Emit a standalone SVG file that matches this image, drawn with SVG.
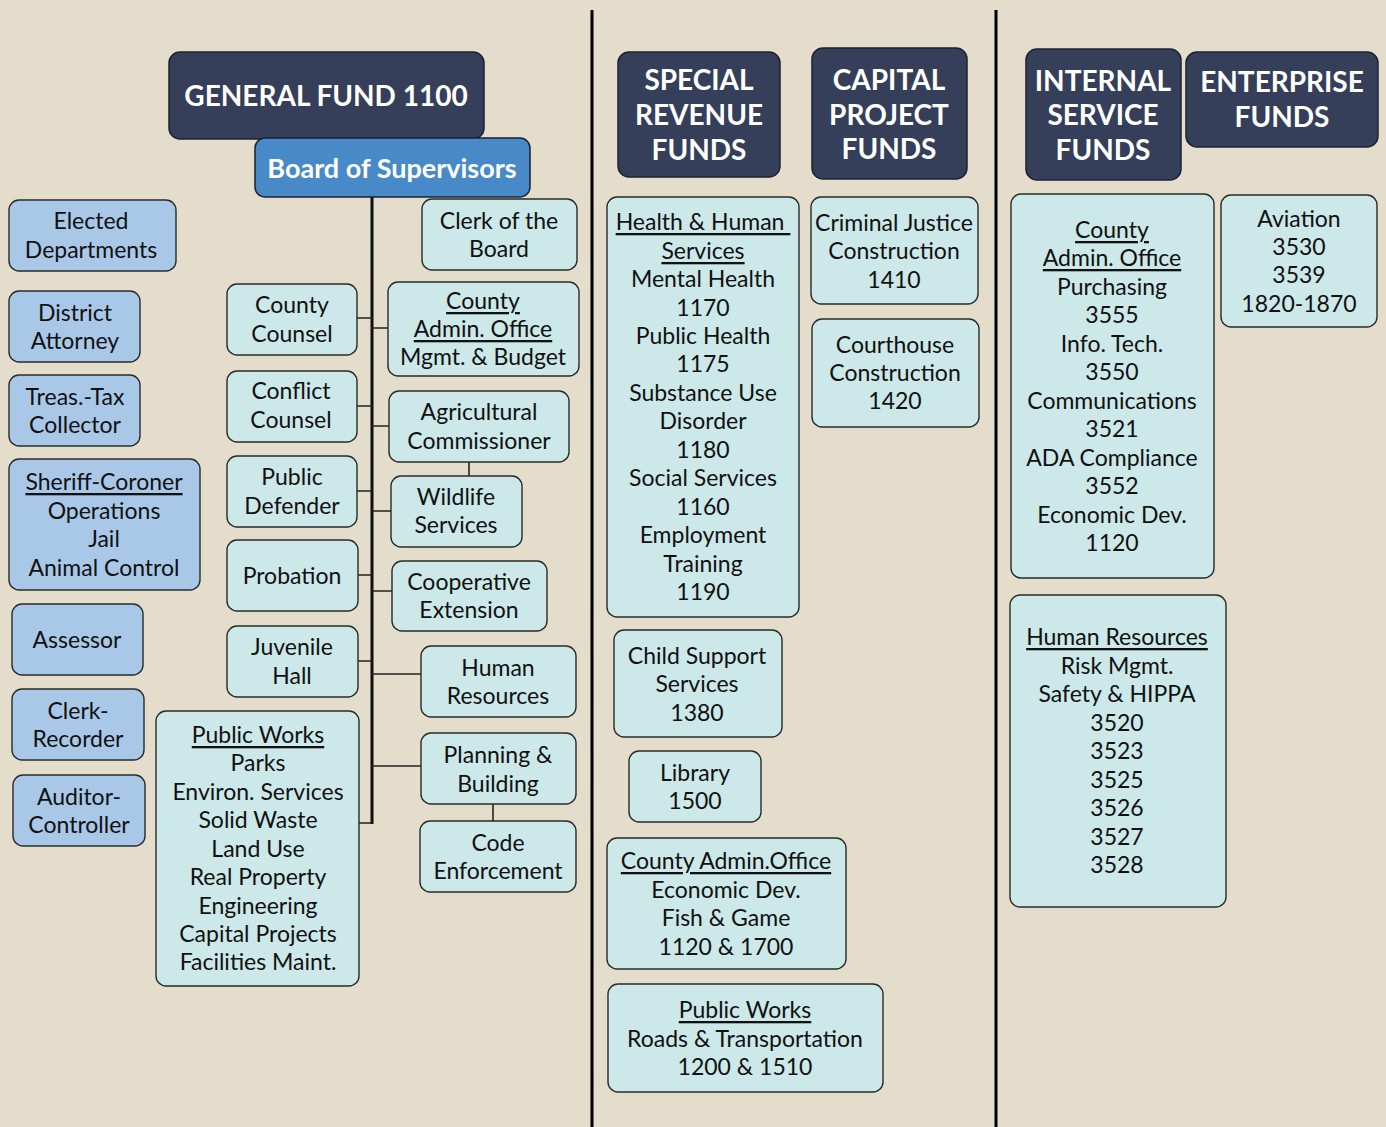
<svg xmlns="http://www.w3.org/2000/svg" width="1386" height="1127" viewBox="0 0 1386 1127">
<style>
.hd{fill:#353F5A;stroke:#1E2230;stroke-width:1.5}
.bs{fill:#4889C8;stroke:#1E2230;stroke-width:1.5}
.lb{fill:#A9C8E8;stroke:#2A2A2A;stroke-width:1.4}
.tl{fill:#CCE8E8;stroke:#2A2A2A;stroke-width:1.4}
text{font-family:Lato,"Open Sans","Liberation Sans",sans-serif;text-anchor:middle;dominant-baseline:central;transform:translate(0px,-1px)}
.t{font-size:23px;fill:#111}
.h{font-size:28px;font-weight:bold;fill:#fff}
.u{text-decoration:underline;white-space:pre}
.c{stroke:#222;stroke-width:1.6;fill:none}
.tr{stroke:#111;stroke-width:3;fill:none}
</style>
<rect width="1386" height="1127" fill="#E4DDCB"/>
<g id="separators">
<line x1="592" y1="10" x2="592" y2="1127" stroke="#000" stroke-width="3"/>
<line x1="996" y1="10" x2="996" y2="1127" stroke="#000" stroke-width="3"/>
</g>
<g id="connectors">
<line class="tr" x1="372" y1="197" x2="372" y2="824"/>
<path class="c" d="M357 318H372M357 406H372M357 491H372M358 575H372M358 661H372M359 823H372"/>
<path class="c" d="M372 328H388M372 426H389M372 511H391M372 591H392M372 674H421M372 766H421"/>
<path class="c" d="M469 462V476M493 804V821"/>
</g>
<g id="general-fund"><rect class="hd" x="169" y="52" width="315" height="87" rx="11"/><text class="h" x="326" y="96">GENERAL FUND 1100</text></g>
<g id="board"><rect class="bs" x="255" y="138" width="275" height="59" rx="10"/><text class="h" x="392" y="168" style="font-size:27px">Board of Supervisors</text></g>
<g id="special-revenue"><rect class="hd" x="618" y="52" width="162" height="125" rx="11"/><text class="h" x="699" y="80">SPECIAL</text><text class="h" x="699" y="115">REVENUE</text><text class="h" x="699" y="150">FUNDS</text></g>
<g id="capital-project"><rect class="hd" x="812" y="48" width="155" height="131" rx="11"/><text class="h" x="889" y="80">CAPITAL</text><text class="h" x="889" y="115">PROJECT</text><text class="h" x="889" y="149">FUNDS</text></g>
<g id="internal-service"><rect class="hd" x="1026" y="49" width="155" height="131" rx="11"/><text class="h" x="1103" y="81">INTERNAL</text><text class="h" x="1103" y="115">SERVICE</text><text class="h" x="1103" y="150">FUNDS</text></g>
<g id="enterprise"><rect class="hd" x="1186" y="52" width="192" height="95" rx="11"/><text class="h" x="1282" y="82">ENTERPRISE</text><text class="h" x="1282" y="117">FUNDS</text></g>

<g id="elected"><rect class="lb" x="9" y="200" width="167" height="71" rx="10"/><text class="t" x="91" y="221">Elected</text><text class="t" x="91" y="250">Departments</text></g>
<g id="district-attorney"><rect class="lb" x="9" y="291" width="131" height="71" rx="10"/><text class="t" x="75" y="313">District</text><text class="t" x="75" y="341">Attorney</text></g>
<g id="treas"><rect class="lb" x="9" y="375" width="131" height="71" rx="10"/><text class="t" x="75" y="397">Treas.-Tax</text><text class="t" x="75" y="425">Collector</text></g>
<g id="sheriff"><rect class="lb" x="9" y="459" width="191" height="131" rx="10"/><text class="t u" x="104" y="482">Sheriff-Coroner</text><text class="t" x="104" y="511">Operations</text><text class="t" x="104" y="539">Jail</text><text class="t" x="104" y="568">Animal Control</text></g>
<g id="assessor"><rect class="lb" x="12" y="604" width="131" height="71" rx="10"/><text class="t" x="77" y="640">Assessor</text></g>
<g id="clerk-recorder"><rect class="lb" x="12" y="689" width="132" height="71" rx="10"/><text class="t" x="78" y="711">Clerk-</text><text class="t" x="78" y="739">Recorder</text></g>
<g id="auditor"><rect class="lb" x="13" y="775" width="132" height="71" rx="10"/><text class="t" x="79" y="797">Auditor-</text><text class="t" x="79" y="825">Controller</text></g>

<g id="county-counsel"><rect class="tl" x="227" y="284" width="130" height="71" rx="10"/><text class="t" x="292" y="305">County</text><text class="t" x="292" y="334">Counsel</text></g>
<g id="conflict-counsel"><rect class="tl" x="227" y="371" width="130" height="71" rx="10"/><text class="t" x="291" y="391">Conflict</text><text class="t" x="291" y="420">Counsel</text></g>
<g id="public-defender"><rect class="tl" x="227" y="456" width="130" height="71" rx="10"/><text class="t" x="292" y="477">Public</text><text class="t" x="292" y="506">Defender</text></g>
<g id="probation"><rect class="tl" x="227" y="540" width="131" height="71" rx="10"/><text class="t" x="292" y="576">Probation</text></g>
<g id="juvenile-hall"><rect class="tl" x="227" y="626" width="131" height="71" rx="10"/><text class="t" x="292" y="647">Juvenile</text><text class="t" x="292" y="676">Hall</text></g>
<g id="public-works"><rect class="tl" x="156" y="711" width="203" height="275" rx="10"/><text class="t u" x="258" y="735">Public Works</text><text class="t" x="258" y="763">Parks</text><text class="t" x="258" y="792">Environ. Services</text><text class="t" x="258" y="820">Solid Waste</text><text class="t" x="258" y="849">Land Use</text><text class="t" x="258" y="877">Real Property</text><text class="t" x="258" y="906">Engineering</text><text class="t" x="258" y="934">Capital Projects</text><text class="t" x="258" y="962">Facilities Maint.</text></g>

<g id="clerk-board"><rect class="tl" x="422" y="199" width="155" height="71" rx="10"/><text class="t" x="499" y="221">Clerk of the</text><text class="t" x="499" y="249">Board</text></g>
<g id="cao-budget"><rect class="tl" x="388" y="282" width="191" height="94" rx="10"/><text class="t u" x="483" y="301">County</text><text class="t u" x="483" y="329">Admin. Office</text><text class="t" x="483" y="357">Mgmt. &amp; Budget</text></g>
<g id="agri"><rect class="tl" x="389" y="391" width="180" height="71" rx="10"/><text class="t" x="479" y="412">Agricultural</text><text class="t" x="479" y="441">Commissioner</text></g>
<g id="wildlife"><rect class="tl" x="391" y="476" width="131" height="71" rx="10"/><text class="t" x="456" y="497">Wildlife</text><text class="t" x="456" y="525">Services</text></g>
<g id="coop"><rect class="tl" x="392" y="561" width="155" height="70" rx="10"/><text class="t" x="469" y="582">Cooperative</text><text class="t" x="469" y="610">Extension</text></g>
<g id="human-resources"><rect class="tl" x="421" y="646" width="155" height="71" rx="10"/><text class="t" x="498" y="668">Human</text><text class="t" x="498" y="696">Resources</text></g>
<g id="planning"><rect class="tl" x="421" y="733" width="155" height="71" rx="10"/><text class="t" x="498" y="755">Planning &amp;</text><text class="t" x="498" y="784">Building</text></g>
<g id="code-enforcement"><rect class="tl" x="420" y="821" width="156" height="71" rx="10"/><text class="t" x="498" y="843">Code</text><text class="t" x="498" y="871">Enforcement</text></g>

<g id="hhs"><rect class="tl" x="607" y="197" width="192" height="420" rx="10"/><text class="t u" x="703" y="222">Health &amp; Human </text><text class="t u" x="703" y="251">Services</text><text class="t" x="703" y="279">Mental Health</text><text class="t" x="703" y="308">1170</text><text class="t" x="703" y="336">Public Health</text><text class="t" x="703" y="364">1175</text><text class="t" x="703" y="393">Substance Use</text><text class="t" x="703" y="421">Disorder</text><text class="t" x="703" y="450">1180</text><text class="t" x="703" y="478">Social Services</text><text class="t" x="703" y="507">1160</text><text class="t" x="703" y="535">Employment</text><text class="t" x="703" y="564">Training</text><text class="t" x="703" y="592">1190</text></g>
<g id="child-support"><rect class="tl" x="614" y="630" width="168" height="107" rx="10"/><text class="t" x="697" y="656">Child Support</text><text class="t" x="697" y="684">Services</text><text class="t" x="697" y="713">1380</text></g>
<g id="library"><rect class="tl" x="629" y="751" width="132" height="71" rx="10"/><text class="t" x="695" y="773">Library</text><text class="t" x="695" y="801">1500</text></g>
<g id="cao-econ"><rect class="tl" x="607" y="838" width="239" height="131" rx="10"/><text class="t u" x="726" y="861">County Admin.Office</text><text class="t" x="726" y="890">Economic Dev.</text><text class="t" x="726" y="918">Fish &amp; Game</text><text class="t" x="726" y="947">1120 &amp; 1700</text></g>
<g id="pw-roads"><rect class="tl" x="608" y="984" width="275" height="108" rx="10"/><text class="t u" x="745" y="1010">Public Works</text><text class="t" x="745" y="1039">Roads &amp; Transportation</text><text class="t" x="745" y="1067">1200 &amp; 1510</text></g>

<g id="criminal-justice"><rect class="tl" x="811" y="197" width="167" height="107" rx="10"/><text class="t" x="894" y="223">Criminal Justice</text><text class="t" x="894" y="251">Construction</text><text class="t" x="894" y="280">1410</text></g>
<g id="courthouse"><rect class="tl" x="812" y="319" width="167" height="108" rx="10"/><text class="t" x="895" y="345">Courthouse</text><text class="t" x="895" y="373">Construction</text><text class="t" x="895" y="401">1420</text></g>

<g id="cao-internal"><rect class="tl" x="1011" y="194" width="203" height="384" rx="10"/><text class="t u" x="1112" y="230">County</text><text class="t u" x="1112" y="258">Admin. Office</text><text class="t" x="1112" y="287">Purchasing</text><text class="t" x="1112" y="315">3555</text><text class="t" x="1112" y="344">Info. Tech.</text><text class="t" x="1112" y="372">3550</text><text class="t" x="1112" y="401">Communications</text><text class="t" x="1112" y="429">3521</text><text class="t" x="1112" y="458">ADA Compliance</text><text class="t" x="1112" y="486">3552</text><text class="t" x="1112" y="515">Economic Dev.</text><text class="t" x="1112" y="543">1120</text></g>
<g id="hr-internal"><rect class="tl" x="1010" y="595" width="216" height="312" rx="10"/><text class="t u" x="1117" y="637">Human Resources</text><text class="t" x="1117" y="666">Risk Mgmt.</text><text class="t" x="1117" y="694">Safety &amp; HIPPA</text><text class="t" x="1117" y="723">3520</text><text class="t" x="1117" y="751">3523</text><text class="t" x="1117" y="780">3525</text><text class="t" x="1117" y="808">3526</text><text class="t" x="1117" y="837">3527</text><text class="t" x="1117" y="865">3528</text></g>
<g id="aviation"><rect class="tl" x="1221" y="195" width="156" height="132" rx="10"/><text class="t" x="1299" y="219">Aviation</text><text class="t" x="1299" y="247">3530</text><text class="t" x="1299" y="275">3539</text><text class="t" x="1299" y="304">1820-1870</text></g>
</svg>
